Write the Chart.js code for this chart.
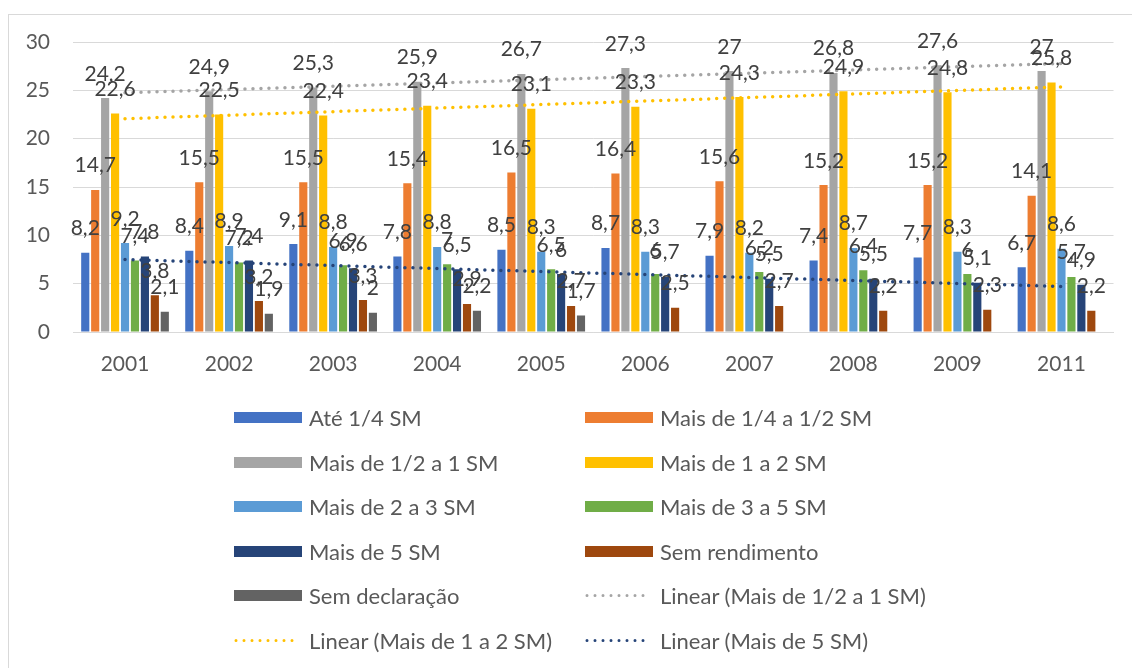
<!DOCTYPE html>
<html lang="pt">
<head>
<meta charset="utf-8">
<title>Distribuição por faixa de rendimento</title>
<script src="https://cdn.jsdelivr.net/npm/chart.js@4/dist/chart.umd.min.js"></script>
<style>
  html, body { margin: 0; padding: 0; background: #fff; overflow: hidden; }
  #wrap { position: relative; width: 1132px; height: 668px; }
  #frame { position: absolute; left: 8px; top: 14px; width: 1200px; height: 700px;
           border: 1px solid #D9D9D9; box-sizing: border-box; pointer-events: none; }
  canvas { position: absolute; left: 0; top: 0; }
  #legend { position: absolute; left: 0; top: 0; width: 1132px; height: 668px;
            font-family: Lato, "Noto Sans", sans-serif; font-size: 22px; color: #595959; }
  .item { position: absolute; display: flex; align-items: center; height: 30px; white-space: nowrap; }
  .sw { width: 68px; height: 11px; flex: none; }
  .txt { margin-left: 7px; }
</style>
</head>
<body>
<div id="wrap">
  <div id="frame"></div>
  <canvas id="chart" width="1132" height="668"></canvas>
  <div id="legend"></div>
</div>
<script>
// Categorias (anos)
const years = ['2001', '2002', '2003', '2004', '2005', '2006', '2007', '2008', '2009', '2011'];

// Percentual por faixa de rendimento (salários mínimos)
const ate14      = [8.2, 8.4, 9.1, 7.8, 8.5, 8.7, 7.9, 7.4, 7.7, 6.7];
const de14a12    = [14.7, 15.5, 15.5, 15.4, 16.5, 16.4, 15.6, 15.2, 15.2, 14.1];
const de12a1     = [24.2, 24.9, 25.3, 25.9, 26.7, 27.3, 27, 26.8, 27.6, 27];
const de1a2      = [22.6, 22.5, 22.4, 23.4, 23.1, 23.3, 24.3, 24.9, 24.8, 25.8];
const de2a3      = [9.2, 8.9, 8.8, 8.8, 8.3, 8.3, 8.2, 8.7, 8.3, 8.6];
const de3a5      = [7.4, 7.2, 6.9, 7, 6.5, 6, 6.2, 6.4, 6, 5.7];
const mais5      = [7.8, 7.4, 6.6, 6.5, 6, 5.7, 5.5, 5.5, 5.1, 4.9];
const semRend    = [3.8, 3.2, 3.3, 2.9, 2.7, 2.5, 2.7, 2.2, 2.3, 2.2];
const semDecl    = [2.1, 1.9, 2, 2.2, 1.7, null, null, null, null, null];

// Marcas do eixo vertical
const yTicks = [0, 5, 10, 15, 20, 25, 30];

const FONT = 'Lato, "Noto Sans", sans-serif';

// Linha de tendência linear (mínimos quadrados) sobre os pontos da série
function linearTrend(values) {
  const pts = values.map((v, i) => [i + 1, v]).filter(p => p[1] !== null);
  const n = pts.length;
  const mx = pts.reduce((s, p) => s + p[0], 0) / n;
  const my = pts.reduce((s, p) => s + p[1], 0) / n;
  let sxy = 0, sxx = 0;
  pts.forEach(p => { sxy += (p[0] - mx) * (p[1] - my); sxx += (p[0] - mx) ** 2; });
  const b = sxy / sxx, a = my - b * mx;
  return values.map((_, i) => a + b * (i + 1));
}

function bar(label, data, color) {
  return { type: 'bar', label, data, backgroundColor: color, order: 2,
           barPercentage: 0.82, categoryPercentage: 0.86 };
}
function trend(label, source, color) {
  return { type: 'line', label, data: linearTrend(source), borderColor: color,
           backgroundColor: color, borderWidth: 3.5, borderDash: [0, 8],
           borderCapStyle: 'round', pointRadius: 0, tension: 0, order: 1, isTrend: true };
}

const datasets = [
  bar('Até 1/4 SM', ate14, '#4472C4'),
  bar('Mais de 1/4 a 1/2 SM', de14a12, '#ED7D31'),
  bar('Mais de 1/2 a 1 SM', de12a1, '#A5A5A5'),
  bar('Mais de 1 a 2 SM', de1a2, '#FFC000'),
  bar('Mais de 2 a 3 SM', de2a3, '#5B9BD5'),
  bar('Mais de 3 a 5 SM', de3a5, '#70AD47'),
  bar('Mais de 5 SM', mais5, '#264478'),
  bar('Sem rendimento', semRend, '#9E480E'),
  bar('Sem declaração', semDecl, '#636363'),
  trend('Linear (Mais de 1/2 a 1 SM)', de12a1, '#A5A5A5'),
  trend('Linear (Mais de 1 a 2 SM)', de1a2, '#FFC000'),
  trend('Linear (Mais de 5 SM)', mais5, '#264478')
];

// Rótulos de valor acima de cada coluna
const barLabels = {
  id: 'barLabels',
  afterDatasetsDraw(chart) {
    const ctx = chart.ctx;
    ctx.save();
    ctx.font = '21px ' + FONT;
    ctx.fillStyle = '#404040';
    ctx.textAlign = 'center';
    ctx.textBaseline = 'alphabetic';
    chart.data.datasets.forEach((ds, di) => {
      if (ds.type !== 'bar') return;
      const meta = chart.getDatasetMeta(di);
      meta.data.forEach((el, i) => {
        const v = ds.data[i];
        if (v === null || v === undefined) return;
        ctx.fillText(String(v).replace('.', ','), el.x, el.y - 17.5);
      });
    });
    ctx.restore();
  }
};

const chart = new Chart(document.getElementById('chart'), {
  data: { labels: years, datasets },
  options: {
    responsive: false,
    animation: false,
    layout: { padding: { top: 42, left: 0, right: 18.5, bottom: 276 } },
    plugins: { legend: { display: false }, tooltip: { enabled: false } },
    scales: {
      x: {
        grid: { display: false },
        border: { display: true, color: '#D9D9D9', width: 1 },
        ticks: { font: { family: FONT, size: 21 }, color: '#595959', padding: 12 },
        afterFit(scale) { scale.height = 60; }
      },
      y: {
        min: 0, max: 30,
        afterBuildTicks(scale) { scale.ticks = yTicks.map(v => ({ value: v })); },
        grid: { color: '#D9D9D9', lineWidth: 1, drawTicks: false },
        border: { display: false },
        ticks: { font: { family: FONT, size: 21 }, color: '#595959', padding: 23 },
        afterFit(scale) { scale.width = 73; }
      }
    }
  },
  plugins: [barLabels]
});

// Legenda em duas colunas, gerada a partir das séries do gráfico
(function buildLegend() {
  const box = document.getElementById('legend');
  const colX = [234, 585];
  const rowY = [417.5, 462, 506.5, 551, 595.5, 640];
  chart.data.datasets.forEach((ds, i) => {
    const item = document.createElement('div');
    item.className = 'item';
    item.style.left = colX[i % 2] + 'px';
    item.style.top = (rowY[Math.floor(i / 2)] - 15) + 'px';
    let sw;
    if (ds.isTrend) {
      sw = document.createElementNS('http://www.w3.org/2000/svg', 'svg');
      sw.setAttribute('width', '68');
      sw.setAttribute('height', '11');
      sw.style.flex = 'none';
      const ln = document.createElementNS('http://www.w3.org/2000/svg', 'line');
      ln.setAttribute('x1', '2'); ln.setAttribute('y1', '5.5');
      ln.setAttribute('x2', '66'); ln.setAttribute('y2', '5.5');
      ln.setAttribute('stroke', ds.borderColor);
      ln.setAttribute('stroke-width', '3');
      ln.setAttribute('stroke-linecap', 'round');
      ln.setAttribute('stroke-dasharray', '0 8');
      sw.appendChild(ln);
    } else {
      sw = document.createElement('div');
      sw.className = 'sw';
      sw.style.background = ds.backgroundColor;
    }
    const t = document.createElement('span');
    t.className = 'txt';
    t.textContent = ds.label;
    item.appendChild(sw);
    item.appendChild(t);
    box.appendChild(item);
  });
})();
</script>
</body>
</html>
